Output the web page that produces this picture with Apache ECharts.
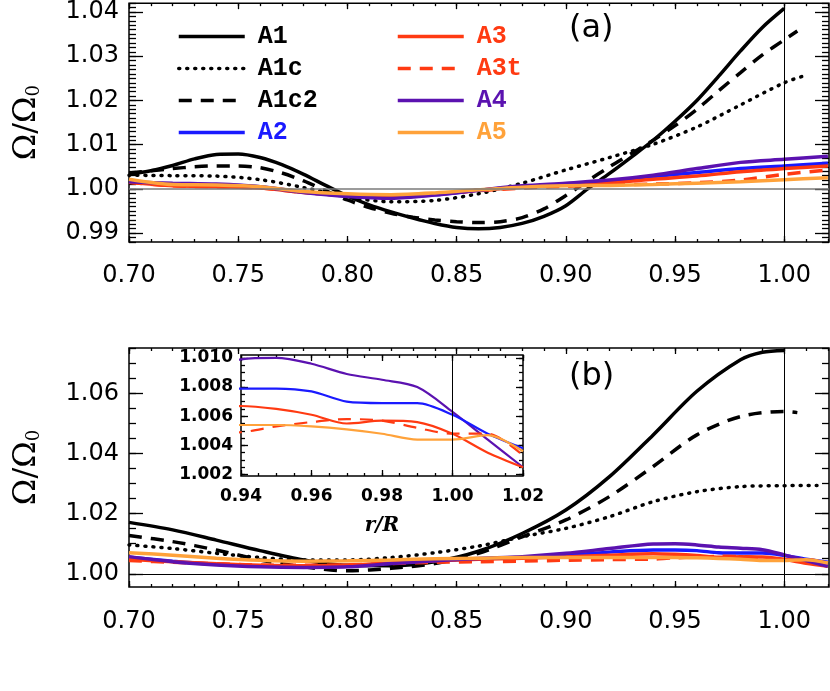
<!DOCTYPE html>
<html>
<head>
<meta charset="utf-8">
<script src="https://cdn.jsdelivr.net/npm/echarts@6/dist/echarts.min.js"></script>
<style>
  html, body { margin: 0; padding: 0; background: #fff; }
  #chart { width: 830px; height: 691px; }
</style>
</head>
<body>
<div id="chart"></div>
<script>
// ---- tick labels ----
const xMajorMain = [0.70, 0.75, 0.80, 0.85, 0.90, 0.95, 1.00];
const yMajorA = [0.99, 1.00, 1.01, 1.02, 1.03, 1.04];
const yMajorB = [1.00, 1.02, 1.04, 1.06];
const xMajorInset = [0.94, 0.96, 0.98, 1.00, 1.02];
const yMajorInset = [1.002, 1.004, 1.006, 1.008, 1.010];

// ---- panel (a) ----
const aA1r = [0.70, 0.71, 0.72, 0.73, 0.74, 0.75, 0.76, 0.77, 0.78, 0.79, 0.80, 0.81, 0.82, 0.83, 0.84, 0.85, 0.86, 0.87, 0.88, 0.89, 0.90, 0.91, 0.92, 0.93, 0.94, 0.95, 0.96, 0.97, 0.98, 0.99, 1.00];
const aA1v = [1.0033, 1.0041, 1.0053, 1.0068, 1.0078, 1.0079, 1.0071, 1.0055, 1.0033, 1.0008, 0.9984, 0.9964, 0.9948, 0.9934, 0.9922, 0.9913, 0.9910, 0.9913, 0.9922, 0.9938, 0.9962, 1.0000, 1.0035, 1.0072, 1.0110, 1.0153, 1.0200, 1.0255, 1.0312, 1.0365, 1.0408];
const aA1cr = [0.70, 0.72, 0.74, 0.76, 0.78, 0.80, 0.82, 0.84, 0.86, 0.88, 0.90, 0.92, 0.94, 0.96, 0.98, 1.00, 1.01];
const aA1cv = [1.0031, 1.0030, 1.0029, 1.0021, 1.0003, 0.9982, 0.9971, 0.9974, 0.9989, 1.0013, 1.0043, 1.0071, 1.0101, 1.0140, 1.0190, 1.0240, 1.0257];
const aA1c2r = [0.70, 0.71, 0.72, 0.73, 0.74, 0.75, 0.76, 0.77, 0.78, 0.79, 0.80, 0.81, 0.82, 0.83, 0.84, 0.85, 0.86, 0.87, 0.88, 0.89, 0.90, 0.91, 0.92, 0.93, 0.94, 0.95, 0.96, 0.97, 0.98, 0.99, 1.00, 1.006];
const aA1c2v = [1.0036, 1.0041, 1.0046, 1.0050, 1.0052, 1.0052, 1.0048, 1.0036, 1.0018, 0.9996, 0.9975, 0.9958, 0.9945, 0.9936, 0.9930, 0.9926, 0.9924, 0.9926, 0.9935, 0.9955, 0.9985, 1.0018, 1.0050, 1.0080, 1.0110, 1.0143, 1.0180, 1.0222, 1.0263, 1.0303, 1.0337, 1.0357];
const aR = [0.70, 0.72, 0.74, 0.76, 0.78, 0.80, 0.82, 0.84, 0.86, 0.88, 0.90, 0.92, 0.94, 0.96, 0.98, 1.00, 1.02];
const aA2 = [1.0016, 1.0010, 1.0009, 1.0005, 0.9993, 0.9984, 0.9982, 0.9987, 0.9997, 1.0005, 1.0010, 1.0017, 1.0028, 1.0037, 1.0046, 1.0052, 1.0058];
const aA3 = [1.0015, 1.0007, 1.0005, 1.0002, 0.9992, 0.9985, 0.9984, 0.9988, 0.9997, 1.0004, 1.0009, 1.0014, 1.0022, 1.0029, 1.0039, 1.0046, 1.0052];
const aA3t = [1.0015, 1.0007, 1.0005, 1.0002, 0.9992, 0.9985, 0.9984, 0.9988, 0.9996, 1.0002, 1.0006, 1.0009, 1.0011, 1.0014, 1.0020, 1.0033, 1.0043];
const aA4 = [1.0016, 1.0013, 1.0011, 1.0005, 0.9992, 0.9983, 0.9979, 0.9986, 0.9997, 1.0007, 1.0013, 1.0020, 1.0031, 1.0046, 1.0060, 1.0067, 1.0074];
const aA5 = [1.0022, 1.0010, 1.0009, 1.0005, 0.9994, 0.9989, 0.9987, 0.9991, 0.9998, 1.0004, 1.0007, 1.0008, 1.0010, 1.0013, 1.0016, 1.0021, 1.0025];

// ---- panel (b) ----
const bA1r = [0.70, 0.72, 0.74, 0.76, 0.78, 0.80, 0.82, 0.84, 0.86, 0.88, 0.90, 0.92, 0.94, 0.96, 0.98, 0.99, 1.00];
const bA1v = [1.0171, 1.0146, 1.0112, 1.0077, 1.0046, 1.0028, 1.0027, 1.0040, 1.0075, 1.0134, 1.0212, 1.0323, 1.0462, 1.0607, 1.0712, 1.0737, 1.0743];
const bA1c2r = [0.70, 0.72, 0.74, 0.76, 0.78, 0.80, 0.82, 0.84, 0.86, 0.88, 0.90, 0.92, 0.94, 0.96, 0.98, 1.00, 1.006];
const bA1c2v = [1.0127, 1.0107, 1.0079, 1.0046, 1.0023, 1.0010, 1.0018, 1.0034, 1.0068, 1.0123, 1.0179, 1.0257, 1.0357, 1.0462, 1.0523, 1.0540, 1.0536];
const bA1cr = [0.70, 0.72, 0.74, 0.76, 0.78, 0.80, 0.82, 0.84, 0.86, 0.88, 0.90, 0.92, 0.94, 0.96, 0.98, 1.00, 1.015];
const bA1cv = [1.0096, 1.0084, 1.0068, 1.0054, 1.0046, 1.0046, 1.0054, 1.0070, 1.0092, 1.0123, 1.0151, 1.0190, 1.0240, 1.0273, 1.0290, 1.0293, 1.0294];
const bR = [0.70, 0.72, 0.74, 0.76, 0.78, 0.80, 0.82, 0.84, 0.86, 0.88, 0.90, 0.92, 0.94, 0.95, 0.96, 0.97, 0.98, 0.99, 1.00, 1.01, 1.02];
const bA2 = [1.0055, 1.0042, 1.0032, 1.0026, 1.0024, 1.0026, 1.0035, 1.0043, 1.0050, 1.0055, 1.0062, 1.0072, 1.0079, 1.0079, 1.0077, 1.0070, 1.0069, 1.0069, 1.0061, 1.0048, 1.0038];
const bA3 = [1.0048, 1.0040, 1.0033, 1.0028, 1.0027, 1.0029, 1.0036, 1.0043, 1.0048, 1.0052, 1.0056, 1.0062, 1.0067, 1.0065, 1.0061, 1.0055, 1.0057, 1.0056, 1.0048, 1.0035, 1.0025];
const bA3t = [1.0044, 1.0038, 1.0033, 1.0029, 1.0028, 1.0030, 1.0034, 1.0038, 1.0040, 1.0042, 1.0045, 1.0047, 1.0049, 1.0053, 1.0056, 1.0058, 1.0057, 1.0052, 1.0048, 1.0048, 1.0033];
const bA4 = [1.0057, 1.0040, 1.0029, 1.0023, 1.0021, 1.0023, 1.0034, 1.0043, 1.0051, 1.0057, 1.0068, 1.0084, 1.0099, 1.0100, 1.0096, 1.0089, 1.0085, 1.0080, 1.0063, 1.0044, 1.0025];
const bA5 = [1.0070, 1.0062, 1.0052, 1.0045, 1.0042, 1.0043, 1.0046, 1.0050, 1.0052, 1.0054, 1.0054, 1.0054, 1.0054, 1.0054, 1.0053, 1.0051, 1.0048, 1.0044, 1.0044, 1.0047, 1.0036];

const zip = (xs, ys) => xs.map((x, i) => [x, ys[i]]);
const steps = (from, to, step) => {
  const out = [];
  for (let k = Math.ceil(from / step - 1e-6); k * step <= to + 1e-9; k++) out.push(+(k * step).toFixed(5));
  return out;
};

const colors = {A1: '#000', A1c: '#000', A1c2: '#000', A2: '#1a1aff', A3: '#ff3a12', A3t: '#ff3a12', A4: '#5b12b0', A5: '#ffa23a'};
const dash = {A1: 'solid', A1c: [1, 7], A1c2: [13, 9], A2: 'solid', A3: 'solid', A3t: [13, 9], A4: 'solid', A5: 'solid'};

const font = 'DejaVu Sans';
const labelStyle = {color: '#000', fontFamily: font, fontSize: 24};
const insetLabel = {color: '#000', fontFamily: font, fontSize: 17, fontWeight: 'bold'};
const yName = {
  name: '{a|Ω/Ω}{s|0}',
  nameLocation: 'middle',
  nameRotate: 90,
  nameGap: 86,
  nameTextStyle: {
    rich: {
      a: {fontFamily: 'DejaVu Serif', fontSize: 32, color: '#000'},
      s: {fontFamily: 'DejaVu Serif', fontSize: 18, color: '#000', padding: [14, 0, 0, 0]}
    }
  }
};

// four axes per side: labelled major, minor, mirrored major, mirrored minor
function boxAxes(gi, dim, range, major, minor, majLen, minLen, label, fmt, extra) {
  const pos = dim === 'x' ? ['bottom', 'top'] : ['left', 'right'];
  const base = {
    gridIndex: gi, type: 'value', min: range[0], max: range[1],
    axisLine: {show: false}, splitLine: {show: false}
  };
  const tick = (vals, len) => ({show: true, inside: true, length: len, customValues: vals, lineStyle: {color: '#000', width: 1.3}});
  return [
    Object.assign({}, base, extra || {}, {position: pos[0], axisTick: tick(major, majLen),
      axisLabel: Object.assign({customValues: major, formatter: v => v.toFixed(fmt)}, label)}),
    Object.assign({}, base, {position: pos[0], axisTick: tick(minor, minLen), axisLabel: {show: false}}),
    Object.assign({}, base, {position: pos[1], axisTick: tick(major, majLen), axisLabel: {show: false}}),
    Object.assign({}, base, {position: pos[1], axisTick: tick(minor, minLen), axisLabel: {show: false}})
  ];
}

const xRange = [0.70, 1.0205];
const xMinorMain = steps(0.70, 1.02, 0.01);

const xAxes = [].concat(
  boxAxes(0, 'x', xRange, xMajorMain, xMinorMain, 6, 3, Object.assign({margin: 22}, labelStyle), 2),
  boxAxes(1, 'x', xRange, xMajorMain, xMinorMain, 6, 3, Object.assign({margin: 23}, labelStyle), 2),
  boxAxes(2, 'x', [0.94, 1.02], xMajorInset, steps(0.94, 1.02, 0.005), 6, 3, Object.assign({margin: 12}, insetLabel), 2,
    {name: 'r/R', nameLocation: 'middle', nameGap: 40,
     nameTextStyle: {fontFamily: 'DejaVu Serif', fontStyle: 'italic', fontWeight: 'bold', fontSize: 20, color: '#000'}})
);
const yAxes = [].concat(
  boxAxes(0, 'y', [0.988, 1.042], yMajorA, steps(0.988, 1.042, 0.001), 14, 7, Object.assign({margin: 10}, labelStyle), 2, yName),
  boxAxes(1, 'y', [0.9956, 1.0751], yMajorB, steps(0.9956, 1.0751, 0.005), 14, 7, Object.assign({margin: 10}, labelStyle), 2, yName),
  boxAxes(2, 'y', [1.0019, 1.0102], yMajorInset, steps(1.0019, 1.0102, 0.0005), 7, 4, Object.assign({margin: 8}, insetLabel), 3)
);

function line(name, gi, xs, ys, width) {
  return {
    name: name, type: 'line', xAxisIndex: gi * 4, yAxisIndex: gi * 4,
    data: zip(xs, ys), smooth: 0.3, symbol: 'none', silent: true,
    lineStyle: {color: colors[name], width: width, type: dash[name], cap: name === 'A1c' ? 'round' : 'butt'},
    itemStyle: {color: colors[name]},
    emphasis: {disabled: true}
  };
}
function refLines(series, items) {
  series.markLine = {
    silent: true, symbol: ['none', 'none'], label: {show: false}, animation: false,
    data: items
  };
  return series;
}

const series = [
  refLines(line('A1', 0, aA1r, aA1v, 3.5), [
    {yAxis: 1, lineStyle: {color: '#7a7a7a', width: 1.5, type: 'solid'}},
    {xAxis: 1, lineStyle: {color: '#000', width: 1, type: 'solid'}}
  ]),
  line('A1c', 0, aA1cr, aA1cv, 3.5),
  line('A1c2', 0, aA1c2r, aA1c2v, 3.5),
  line('A2', 0, aR, aA2, 3.5),
  line('A3', 0, aR, aA3, 3.5),
  line('A3t', 0, aR, aA3t, 3.5),
  line('A4', 0, aR, aA4, 3.5),
  line('A5', 0, aR, aA5, 3.5),

  refLines(line('A1', 1, bA1r, bA1v, 3.5), [
    {yAxis: 1, lineStyle: {color: '#000', width: 1, type: 'solid'}},
    {xAxis: 1, lineStyle: {color: '#000', width: 1, type: 'solid'}}
  ]),
  line('A1c', 1, bA1cr, bA1cv, 3.5),
  line('A1c2', 1, bA1c2r, bA1c2v, 3.5),
  line('A2', 1, bR, bA2, 3.5),
  line('A3', 1, bR, bA3, 3.5),
  line('A3t', 1, bR, bA3t, 3.5),
  line('A4', 1, bR, bA4, 3.5),
  line('A5', 1, bR, bA5, 3.5),

  refLines(line('A4', 2, bR, bA4, 2.2), [
    {xAxis: 1, lineStyle: {color: '#000', width: 1, type: 'solid'}}
  ]),
  line('A2', 2, bR, bA2, 2.2),
  line('A3', 2, bR, bA3, 2.2),
  line('A3t', 2, bR, bA3t, 2.2),
  line('A5', 2, bR, bA5, 2.2)
];

const legendText = {fontFamily: 'Liberation Mono', fontWeight: 'bold', fontSize: 25, padding: [0, 0, 0, 8]};
function legendCol(left, names) {
  return {
    orient: 'vertical', left: left, top: 19, itemWidth: 66, itemHeight: 20, itemGap: 7,
    selectedMode: false, textStyle: legendText,
    itemStyle: {opacity: 0},
    lineStyle: {width: 3.5},
    data: names.map(n => ({name: n, textStyle: {color: colors[n]}}))
  };
}

const chart = echarts.init(document.getElementById('chart'), null, {renderer: 'canvas'});
chart.setOption({
  animation: false,
  backgroundColor: '#fff',
  title: [
    {text: '(a)', left: 564, top: 8, textStyle: {fontFamily: font, fontWeight: 'normal', fontSize: 32, color: '#000'}},
    {text: '(b)', left: 564, top: 356, textStyle: {fontFamily: font, fontWeight: 'normal', fontSize: 32, color: '#000'}}
  ],
  legend: [
    legendCol(172, ['A1', 'A1c', 'A1c2', 'A2']),
    legendCol(391, ['A3', 'A3t', 'A4', 'A5'])
  ],
  grid: [
    {left: 129, top: 2, width: 700, height: 240, show: true, borderColor: '#000', borderWidth: 1.5, backgroundColor: 'transparent'},
    {left: 129, top: 348, width: 700, height: 239, show: true, borderColor: '#000', borderWidth: 1.5, backgroundColor: 'transparent'},
    {left: 241, top: 355, width: 282, height: 121, show: true, borderColor: '#000', borderWidth: 1.5, backgroundColor: '#fff'}
  ],
  xAxis: xAxes,
  yAxis: yAxes,
  series: series
});
</script>
</body>
</html>
